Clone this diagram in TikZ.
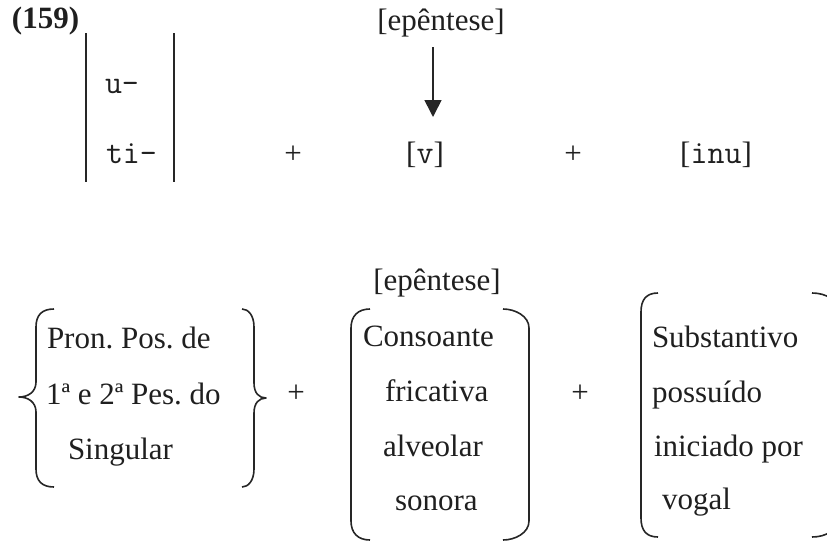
\documentclass[tikz,border=0pt]{standalone}
\usepackage{fontspec}
\setmainfont{Liberation Serif}
\usetikzlibrary{arrows.meta}
\frenchspacing
\newcommand{\mymono}[1]{{\ttfamily\fontsize{33}{33}\selectfont #1}}
\tikzset{
  txt/.style={inner sep=0pt, outer sep=0pt, font=\fontsize{31}{37}\selectfont, text=black!88},
  lft/.style={txt, anchor=base west},
  ctr/.style={txt, anchor=base},
  plus/.style={txt, anchor=center},
  bar/.style={line width=1.6pt, black!85},
  delim/.style={line width=1.6pt, black!85, line join=round},
  arr/.style={line width=1.6pt, black!85, -{Triangle[width=17pt,length=17pt]}}
}
\begin{document}
\begin{tikzpicture}[x=1pt,y=-1pt]
\useasboundingbox (0,0) rectangle (827,541);
\clip (0,0) rectangle (827,541);
% ---------- top row ----------
\node[lft, font=\fontsize{31}{37}\selectfont\bfseries] (num) at (12,28) {(159)};
\coordinate (b1t) at (86,33);  \coordinate (b1b) at (86,182);
\coordinate (b2t) at (174,33); \coordinate (b2b) at (174,182);
\draw[bar] (b1t) -- (b1b);
\draw[bar] (b2t) -- (b2b);
\node[lft] (u) at (105,93) {\mymono{u-}};
\node[lft] (ti) at (106,163) {\mymono{ti-}};
\node[plus] (p1) at (293,155) {+};
\node[ctr] (ep1) at (441,30) {[epêntese]};
\coordinate (a1) at (433,47);
\coordinate (a2) at (433,117);
\draw[arr] (a1) -- (a2);
\node[ctr] (v) at (425,163) {[\mymono{v}]};
\node[plus] (p2) at (573,155) {+};
\node[ctr] (inu) at (716,163) {[\mymono{inu}]};
% ---------- bottom row ----------
\node[ctr] (ep2) at (437,290) {[epêntese]};
% left curly brace
\draw[delim] (54,309) .. controls (42,309) and (36,315) .. (36,327) -- (36,382)
  .. controls (36,392) and (28,397) .. (19,397)
  .. controls (28,397) and (36,402) .. (36,412) -- (36,469)
  .. controls (36,481) and (42,487) .. (54,487);
% right curly brace
\draw[delim] (242,309) .. controls (248,309) and (254,315) .. (254,327) -- (254,383)
  .. controls (254,393) and (259,398) .. (266,398)
  .. controls (259,398) and (254,403) .. (254,413) -- (254,469)
  .. controls (254,481) and (248,487) .. (242,487);
\node[lft] (l1) at (47,348) {Pron. Pos. de};
\node[lft] (l2) at (46,404) {1ª e 2ª Pes. do};
\node[lft] (l3) at (68,459) {Singular};
\node[plus] (p3) at (296,394) {+};
% middle parentheses
\draw[delim] (370,309) .. controls (358,309) and (351,316) .. (351,328) -- (351,521)
  .. controls (351,533) and (358,540) .. (370,540);
\draw[delim] (503,309) .. controls (515,309) and (529,316) .. (529,328) -- (529,521)
  .. controls (529,533) and (515,540) .. (503,540);
\node[lft] (m1) at (363,346) {Consoante};
\node[lft] (m2) at (385,401) {fricativa};
\node[lft] (m3) at (383,456) {alveolar};
\node[lft] (m4) at (395,510) {sonora};
\node[plus] (p4) at (580,394) {+};
% right parentheses
\draw[delim] (658,293) .. controls (646,293) and (641,300) .. (641,312) -- (641,518)
  .. controls (641,530) and (646,537) .. (658,537);
\draw[delim] (812,293) .. controls (826,293) and (838,300) .. (838,312) -- (838,518)
  .. controls (838,530) and (826,537) .. (812,537);
\node[lft] (r1) at (652,347) {Substantivo};
\node[lft] (r2) at (652,402) {possuído};
\node[lft] (r3) at (654,456) {iniciado por};
\node[lft] (r4) at (662,509) {vogal};
\end{tikzpicture}
\end{document}
